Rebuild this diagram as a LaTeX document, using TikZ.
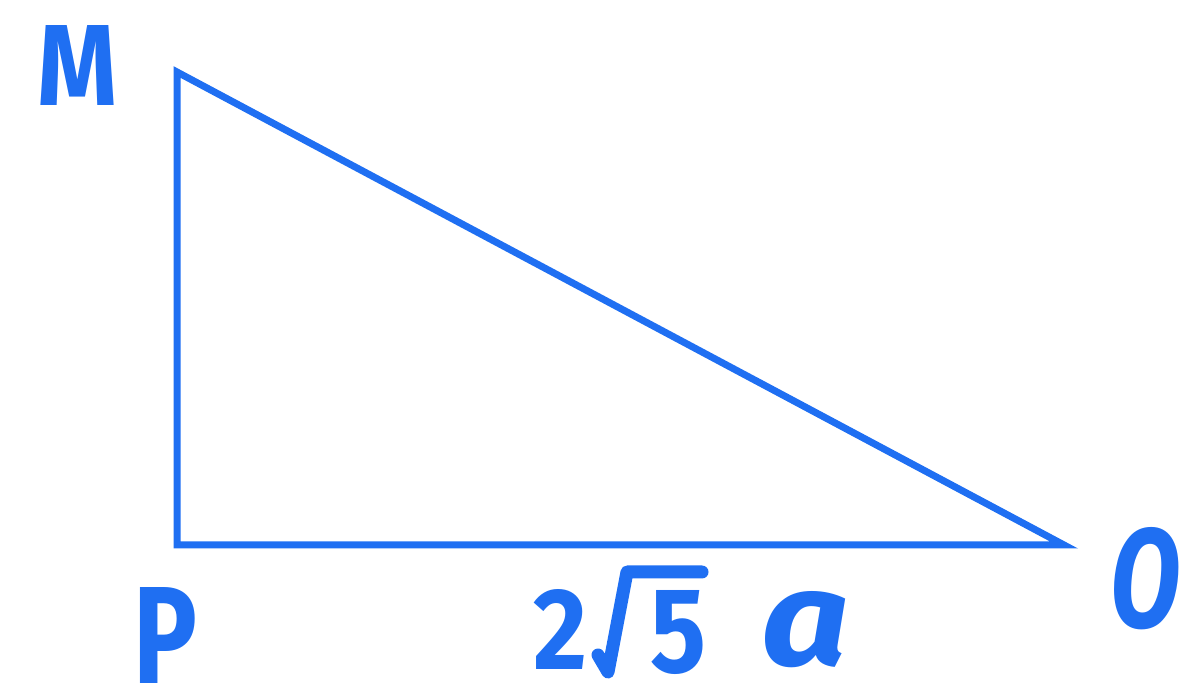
\documentclass[tikz,border=0pt]{standalone}
\usepackage{fontspec}
\usepackage{graphicx}
\setmainfont{Fira Sans}
\definecolor{pen}{HTML}{1F6FF2}
\begin{document}
\begin{tikzpicture}[x=1pt,y=1pt,
  side/.style={draw=pen,line width=7pt,line join=miter},
  lbl/.style={text=pen,inner sep=0pt,font=\bfseries},
  stroke/.style={draw=pen,line width=13pt,line cap=round,line join=round}]
\useasboundingbox (0,0) rectangle (1203,694);
\coordinate (M) at (177,622);
\coordinate (P) at (177,149);
\coordinate (O) at (1064,149);
\draw[side] (M) -- (P) -- (O) -- cycle;
\node[lbl] (lM) at (78,628) {\resizebox{80pt}{80pt}{M}};
\node[lbl] (lP) at (165,58) {\resizebox{64pt}{96pt}{P}};
\node[lbl] (lO) at (1146,115) {\resizebox{70pt}{100pt}{\itshape O}};
\node[lbl] (l2) at (561,65) {\resizebox{54pt}{80pt}{2}};
\node[lbl] (l5) at (678,61) {\resizebox{56pt}{82pt}{5}};
\node[lbl] (la) at (806,64) {\resizebox{88pt}{74pt}{\itshape a}};
\coordinate (r1) at (598,39);
\coordinate (r2) at (608,22);
\coordinate (r3) at (627,122);
\coordinate (r4) at (702,122);
\draw[stroke] (r1) -- (r2) -- (r3) -- (r4);
\end{tikzpicture}
\end{document}
